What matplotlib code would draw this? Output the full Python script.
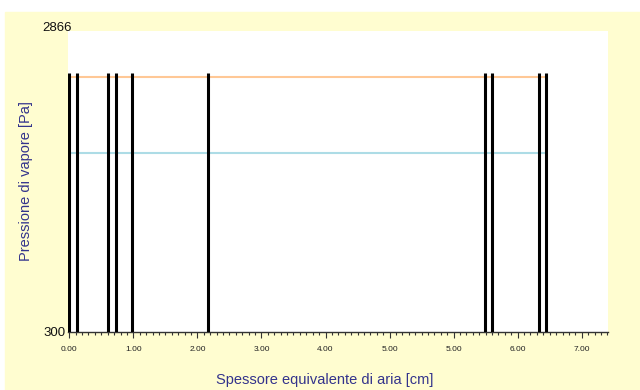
import matplotlib

matplotlib.use("Agg")
import matplotlib.pyplot as plt
from matplotlib.patches import Rectangle
from matplotlib.ticker import MultipleLocator
from matplotlib.transforms import ScaledTranslation

PANEL = "#FFFDD0"
NAVY = "#33338C"
SAT = "#FFC896"    # saturation pressure
VAP = "#ADDCE6"    # vapour pressure

# layer boundaries, in axis units (one unit per major tick)
boundaries = [0.0, 0.125, 0.609, 0.724, 0.974, 2.17, 6.49, 6.60, 7.33, 7.44]
boundary_top = 2505
p_sat = [2471, 2471]
p_vap = [1829, 1829]
y_min, y_max = 300, 2866
xtick_labels = ["0.00", "1.00", "2.00", "3.00", "4.00", "5.00", "5.00", "6.00", "7.00"]

plt.rcParams["font.family"] = ["Liberation Sans", "DejaVu Sans"]

fig = plt.figure(figsize=(6.4, 3.9), dpi=100, facecolor="white")
fig.patches.append(Rectangle((5 / 640, 0), 1, (390 - 12) / 390,
                             transform=fig.transFigure, color=PANEL, zorder=-10))
ax = fig.add_axes([68 / 640, 58 / 390, 540 / 640, 301 / 390])
ax.set_facecolor("white")

ends = [boundaries[0], boundaries[-1]]
ax.plot(ends, p_sat, color=SAT, lw=1.5, zorder=2)
ax.plot(ends, p_vap, color=VAP, lw=1.5, zorder=2)
ax.vlines(boundaries, y_min, boundary_top, color="black", lw=2.2, zorder=3)

ax.set_xlim(-0.02, 8.41)
ax.set_ylim(y_min, y_max)
ax.set_xticks(range(len(xtick_labels)))
ax.set_xticklabels(xtick_labels, fontsize=6, color="#222222")
ax.xaxis.set_minor_locator(MultipleLocator(0.1))
ax.tick_params(axis="x", which="major", length=4, width=0.8, color="#333333", pad=6)
ax.tick_params(axis="x", which="minor", length=2, width=0.8, color="#333333")
ax.set_yticks([y_min, y_max])
ax.set_yticklabels([str(y_min), str(y_max)], fontsize=9.5, color="#111111")
ax.tick_params(axis="y", length=0, pad=2)
top_label = ax.get_yticklabels()[1]
top_label.set_verticalalignment("baseline")
top_label.set_transform(top_label.get_transform()
                        + ScaledTranslation(7 / 100, 0, fig.dpi_scale_trans))

for side in ("top", "right", "left"):
    ax.spines[side].set_visible(False)
ax.spines["bottom"].set_color("#333333")
ax.spines["bottom"].set_linewidth(1.0)

ax.set_xlabel("Spessore equivalente di aria [cm]", fontsize=10.5, color=NAVY)
ax.xaxis.set_label_coords(0.475, -0.135)
ax.set_ylabel("Pressione di vapore [Pa]", fontsize=10.5, color=NAVY)
ax.yaxis.set_label_coords(-0.065, 0.5)

fig.savefig("out.png", dpi=100, facecolor="white")
